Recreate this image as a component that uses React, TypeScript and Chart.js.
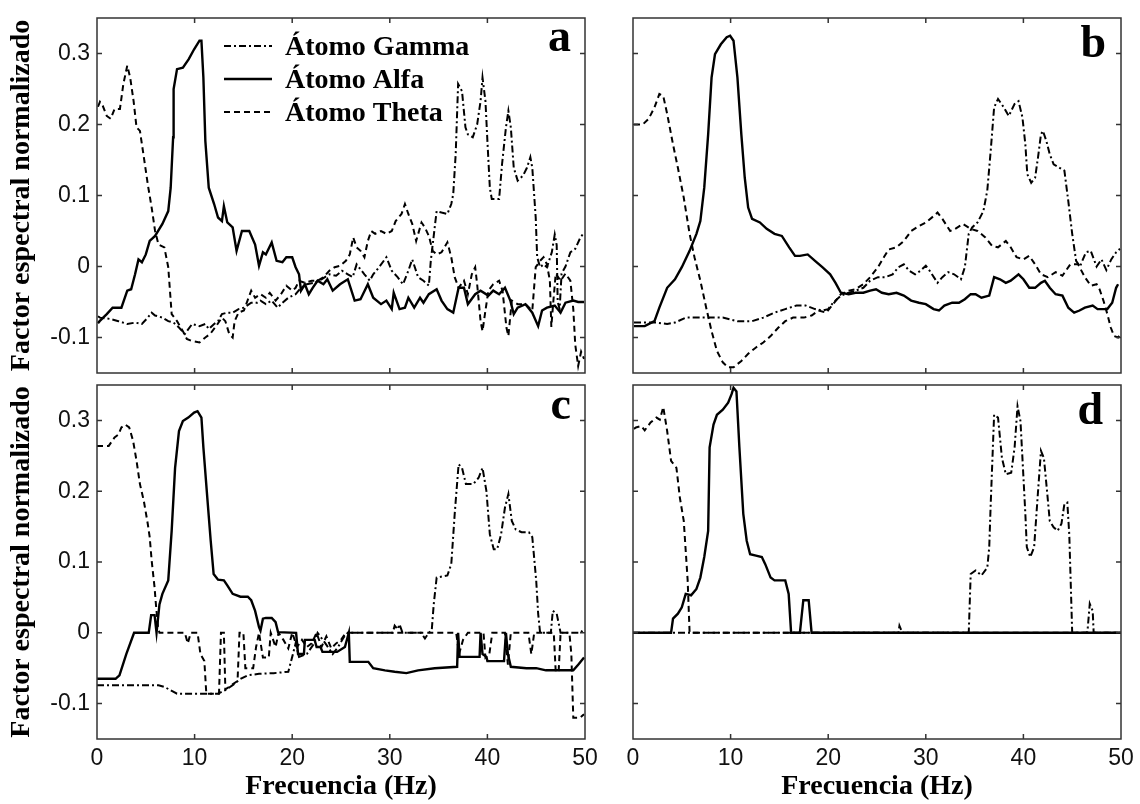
import React, { useEffect, useRef } from 'react';
import { Chart, registerables } from 'chart.js';

Chart.register(...registerables);

// ---------- data ----------
const freqTicks = [0, 10, 20, 30, 40, 50];
const freqTickLabels = ['0', '10', '20', '30', '40', '50'];
const factorTicks = [-0.1, 0, 0.1, 0.2, 0.3];
const factorTickLabels = ['-0.1', '0', '0.1', '0.2', '0.3'];
const seriesNames = ['Átomo Gamma', 'Átomo Alfa', 'Átomo Theta'];
const panelLetters = ['a', 'b', 'c', 'd'];
const xTitle = 'Frecuencia (Hz)';
const yTitle = 'Factor espectral normalizado';

type Pt = [number, number];

// panel a
const aGamma: Pt[] = [[0.1,-0.07],[0.3,-0.072],[1.4,-0.074],[2.2,-0.077],[3.1,-0.081],[3.9,-0.079],[4.6,-0.081],[5.2,-0.072],[5.6,-0.065],[5.95,-0.069],[6.7,-0.072],[7.3,-0.077],[7.85,-0.079],[8.4,-0.086],[9.0,-0.095],[9.75,-0.081],[10.5,-0.084],[11.1,-0.081],[11.45,-0.088],[12.0,-0.081],[12.4,-0.077],[12.8,-0.067],[13.35,-0.065],[13.9,-0.065],[14.5,-0.06],[15.05,-0.058],[15.8,-0.051],[16.4,-0.051],[16.75,-0.048],[17.3,-0.053],[17.9,-0.048],[18.5,-0.058],[19.0,-0.051],[19.6,-0.044],[20.35,-0.039],[20.9,-0.03],[21.5,-0.025],[22.25,-0.023],[23.0,-0.018],[23.8,-0.011],[24.5,-0.013],[25.1,-0.006],[25.7,-0.011],[26.2,-0.015],[26.6,0.003],[27.4,-0.011],[27.95,-0.02],[28.3,-0.011],[28.9,-0.001],[29.65,0.013],[30.2,-0.006],[30.8,-0.015],[31.35,-0.025],[31.9,-0.006],[32.3,0.01],[32.9,-0.015],[33.45,-0.02],[34.0,-0.027],[34.2,0.008],[34.6,0.055],[34.8,0.078],[35.3,0.076],[35.9,0.074],[36.3,0.088],[36.5,0.102],[36.75,0.158],[37.0,0.257],[37.4,0.247],[37.75,0.196],[38.0,0.186],[38.5,0.182],[38.95,0.2],[39.3,0.233],[39.5,0.266],[39.8,0.233],[40.0,0.177],[40.25,0.111],[40.45,0.095],[41.2,0.095],[41.5,0.144],[41.9,0.196],[42.15,0.219],[42.4,0.196],[42.7,0.139],[43.1,0.121],[43.65,0.128],[44.05,0.139],[44.4,0.154],[44.6,0.139],[44.95,0.069],[45.1,0.013],[45.4,-0.001],[45.75,0.003],[46.1,-0.001],[46.6,0.02],[46.9,0.045],[47.1,0.03],[47.2,-0.05],[47.4,-0.06],[47.6,-0.01],[48.0,0.0],[48.5,0.02],[49.0,0.025],[49.5,0.04],[49.9,0.048]];
const aAlfa: Pt[] = [[0.1,-0.08],[0.27,-0.077],[1.0,-0.067],[1.6,-0.058],[2.5,-0.058],[3.1,-0.034],[3.5,-0.032],[3.9,-0.011],[4.25,0.01],[4.6,0.006],[5.0,0.017],[5.4,0.036],[5.95,0.043],[6.7,0.06],[7.3,0.078],[7.55,0.111],[7.8,0.182],[7.85,0.25],[8.2,0.278],[8.8,0.28],[9.4,0.292],[9.95,0.306],[10.5,0.318],[10.7,0.318],[10.9,0.266],[11.1,0.177],[11.45,0.111],[12.0,0.088],[12.4,0.069],[12.8,0.064],[13.0,0.085],[13.35,0.062],[13.9,0.055],[14.3,0.022],[14.85,0.05],[15.6,0.05],[16.2,0.031],[16.6,0.001],[17.0,0.02],[17.3,0.017],[17.9,0.034],[18.4,0.008],[19.0,0.006],[19.4,0.013],[20.0,0.013],[20.35,-0.001],[20.7,-0.011],[20.9,-0.034],[21.3,-0.025],[21.7,-0.039],[22.1,-0.03],[22.6,-0.02],[23.2,-0.025],[23.6,-0.018],[24.15,-0.034],[24.9,-0.025],[25.7,-0.018],[26.4,-0.048],[27.0,-0.046],[27.75,-0.025],[28.3,-0.044],[29.1,-0.053],[29.65,-0.048],[30.2,-0.06],[30.4,-0.037],[31.0,-0.06],[31.55,-0.058],[31.9,-0.044],[32.5,-0.058],[33.1,-0.044],[33.45,-0.051],[34.0,-0.039],[34.8,-0.032],[35.3,-0.048],[35.9,-0.06],[36.5,-0.065],[37.05,-0.03],[37.6,-0.03],[38.0,-0.053],[38.75,-0.039],[39.3,-0.034],[40.1,-0.041],[40.6,-0.034],[41.2,-0.039],[41.8,-0.03],[42.35,-0.048],[42.7,-0.067],[43.1,-0.058],[43.9,-0.053],[44.6,-0.065],[45.2,-0.084],[45.6,-0.062],[46.1,-0.058],[46.9,-0.055],[47.5,-0.065],[48.0,-0.051],[48.8,-0.048],[49.3,-0.05],[49.9,-0.05]];
const aTheta: Pt[] = [[0.1,0.225],[0.3,0.232],[0.6,0.226],[1.0,0.212],[1.4,0.208],[1.8,0.222],[2.35,0.222],[2.7,0.257],[3.1,0.283],[3.4,0.266],[3.75,0.233],[4.05,0.196],[4.4,0.191],[4.8,0.154],[5.2,0.116],[5.6,0.083],[5.95,0.05],[6.3,0.031],[6.9,0.027],[7.3,-0.001],[7.65,-0.067],[8.2,-0.077],[8.8,-0.091],[9.2,-0.102],[9.75,-0.105],[10.5,-0.107],[11.1,-0.1],[11.6,-0.095],[12.2,-0.084],[12.8,-0.072],[13.15,-0.077],[13.55,-0.095],[13.9,-0.1],[14.1,-0.077],[14.5,-0.065],[15.05,-0.062],[15.8,-0.034],[16.2,-0.044],[16.75,-0.039],[17.3,-0.044],[17.7,-0.037],[18.3,-0.048],[18.85,-0.039],[19.4,-0.027],[20.0,-0.034],[20.35,-0.03],[20.7,-0.02],[21.3,-0.023],[22.0,-0.02],[22.6,-0.02],[23.2,-0.015],[23.8,-0.006],[24.35,-0.001],[24.9,0.001],[25.5,0.008],[25.9,0.017],[26.25,0.041],[26.6,0.027],[27.0,0.022],[27.4,0.013],[27.75,0.036],[28.1,0.05],[28.5,0.046],[29.1,0.05],[29.65,0.046],[30.2,0.05],[30.6,0.064],[31.2,0.074],[31.55,0.088],[31.9,0.074],[32.3,0.06],[32.7,0.036],[33.25,0.062],[33.6,0.055],[34.0,0.043],[34.4,0.022],[34.8,0.017],[35.3,0.02],[35.9,0.034],[36.3,0.013],[36.65,-0.015],[37.05,-0.03],[37.6,-0.02],[38.0,-0.039],[38.4,-0.011],[38.75,-0.001],[38.95,-0.025],[39.3,-0.077],[39.5,-0.091],[39.8,-0.062],[40.1,-0.034],[40.6,-0.025],[41.2,-0.02],[41.55,-0.034],[41.95,-0.086],[42.15,-0.098],[42.5,-0.048],[43.1,-0.053],[43.9,-0.053],[44.6,-0.062],[44.95,-0.001],[45.4,0.008],[45.75,0.013],[46.1,0.003],[46.4,-0.02],[46.55,-0.085],[46.75,-0.05],[47.0,-0.01],[47.5,-0.02],[48.0,-0.01],[48.5,-0.02],[48.8,-0.06],[49.0,-0.11],[49.3,-0.14],[49.6,-0.12],[49.9,-0.13]];

// panel b
const bGamma: Pt[] = [[0.1,-0.079],[1.2,-0.079],[2.4,-0.079],[3.5,-0.081],[4.3,-0.079],[5.4,-0.072],[6.5,-0.072],[7.7,-0.072],[9.2,-0.072],[10.7,-0.077],[12.2,-0.077],[13.35,-0.072],[14.5,-0.065],[15.6,-0.06],[16.75,-0.055],[17.7,-0.055],[18.65,-0.06],[19.4,-0.062],[20.0,-0.06],[20.5,-0.051],[21.3,-0.041],[22.1,-0.037],[22.8,-0.034],[23.6,-0.03],[24.3,-0.02],[25.1,-0.015],[25.85,-0.015],[26.6,-0.011],[27.2,-0.001],[27.75,0.003],[28.3,-0.006],[28.9,-0.011],[29.45,-0.006],[30.0,0.001],[30.4,-0.006],[31.2,-0.023],[31.7,-0.015],[32.3,-0.008],[32.9,-0.011],[33.6,-0.018],[34.0,-0.001],[34.4,0.046],[34.75,0.055],[35.3,0.062],[35.9,0.078],[36.3,0.107],[36.65,0.163],[37.0,0.224],[37.4,0.236],[38.0,0.224],[38.5,0.212],[39.1,0.229],[39.5,0.233],[39.9,0.21],[40.2,0.172],[40.4,0.13],[40.8,0.118],[41.2,0.125],[41.5,0.154],[41.8,0.186],[42.0,0.191],[42.35,0.177],[42.7,0.158],[43.1,0.144],[43.7,0.139],[44.2,0.135],[44.6,0.092],[45.0,0.046],[45.4,0.008],[45.8,0.0],[46.4,0.02],[46.9,0.022],[47.5,0.0],[48.0,0.01],[48.5,-0.005],[49.0,0.01],[49.5,0.02],[49.9,0.025]];
const bAlfa: Pt[] = [[0.1,-0.084],[1.2,-0.084],[2.2,-0.077],[2.7,-0.058],[3.5,-0.03],[4.3,-0.018],[5.0,-0.001],[5.8,0.022],[6.5,0.046],[6.9,0.064],[7.3,0.111],[7.7,0.186],[8.05,0.266],[8.4,0.299],[9.0,0.313],[9.6,0.323],[9.95,0.325],[10.3,0.318],[10.7,0.266],[11.1,0.186],[11.45,0.125],[11.8,0.083],[12.2,0.067],[13.0,0.062],[13.7,0.053],[14.5,0.046],[15.25,0.043],[16.0,0.027],[16.6,0.015],[17.1,0.015],[17.9,0.017],[18.65,0.008],[19.4,-0.001],[20.2,-0.011],[20.75,-0.023],[21.3,-0.037],[22.1,-0.039],[22.8,-0.037],[23.6,-0.037],[24.3,-0.034],[24.9,-0.032],[25.5,-0.037],[26.2,-0.039],[27.0,-0.037],[27.75,-0.041],[28.5,-0.048],[29.3,-0.051],[30.0,-0.053],[30.8,-0.06],[31.35,-0.062],[31.9,-0.055],[32.7,-0.051],[33.4,-0.051],[34.0,-0.046],[34.6,-0.039],[35.1,-0.039],[35.7,-0.044],[36.5,-0.041],[37.0,-0.015],[37.6,-0.018],[38.2,-0.023],[38.7,-0.02],[39.5,-0.011],[40.0,-0.018],[40.6,-0.03],[41.2,-0.03],[41.8,-0.023],[42.2,-0.02],[42.7,-0.03],[43.3,-0.039],[44.0,-0.041],[44.6,-0.058],[45.2,-0.065],[45.75,-0.062],[46.3,-0.058],[47.1,-0.055],[47.6,-0.06],[48.2,-0.06],[48.6,-0.06],[49.1,-0.051],[49.5,-0.03],[49.7,-0.025]];
const bTheta: Pt[] = [[0.1,0.2],[1.0,0.2],[1.6,0.208],[2.2,0.224],[2.7,0.243],[3.1,0.24],[3.5,0.215],[4.1,0.172],[4.6,0.139],[5.2,0.097],[5.8,0.046],[6.3,0.013],[6.9,-0.02],[7.5,-0.058],[8.05,-0.091],[8.6,-0.119],[9.2,-0.135],[9.75,-0.142],[10.3,-0.142],[11.1,-0.133],[11.8,-0.123],[12.6,-0.114],[13.35,-0.107],[14.1,-0.098],[14.9,-0.086],[15.6,-0.077],[16.4,-0.072],[17.5,-0.072],[18.3,-0.069],[19.0,-0.062],[19.8,-0.065],[20.5,-0.053],[21.3,-0.039],[22.1,-0.034],[22.8,-0.032],[23.6,-0.025],[24.3,-0.015],[25.1,-0.001],[25.7,0.013],[26.2,0.024],[27.0,0.027],[27.75,0.036],[28.5,0.05],[29.3,0.057],[30.0,0.062],[30.8,0.071],[31.2,0.076],[31.7,0.067],[32.5,0.05],[33.0,0.053],[33.8,0.06],[34.6,0.053],[35.3,0.05],[36.1,0.041],[36.8,0.029],[37.4,0.027],[38.2,0.036],[38.7,0.027],[39.3,0.013],[40.0,0.01],[40.6,0.015],[41.2,0.003],[41.8,-0.011],[42.5,-0.015],[43.3,-0.008],[44.0,-0.013],[44.8,0.003],[45.6,0.003],[46.3,-0.015],[46.9,-0.027],[47.5,-0.025],[47.8,-0.032],[48.2,-0.048],[48.6,-0.067],[48.95,-0.086],[49.3,-0.098],[49.7,-0.1],[49.9,-0.096]];

// panel c
const cGamma: Pt[] = [[0,-0.074],[4.0,-0.074],[6.3,-0.074],[7.0,-0.077],[7.5,-0.081],[8.2,-0.086],[11.0,-0.086],[12.4,-0.086],[13.15,-0.081],[13.9,-0.074],[14.7,-0.065],[15.45,-0.06],[16.6,-0.058],[18.1,-0.057],[19.6,-0.055],[20.0,-0.034],[20.35,-0.015],[20.7,-0.034],[21.5,-0.03],[22.25,-0.015],[22.6,0],[23.4,-0.015],[24.15,-0.03],[24.7,-0.02],[25.3,-0.006],[25.7,0],[30.3,0],[30.5,0.01],[30.8,0.005],[31.0,0.012],[31.3,0],[33.2,0],[33.6,-0.008],[34.0,0],[34.3,0.004],[34.5,0.04],[34.8,0.078],[35.9,0.081],[36.3,0.097],[36.65,0.168],[37.05,0.238],[37.4,0.233],[37.8,0.21],[38.55,0.21],[39.1,0.219],[39.5,0.233],[39.9,0.2],[40.25,0.139],[40.65,0.118],[41.0,0.118],[41.4,0.139],[41.8,0.177],[42.15,0.196],[42.5,0.158],[42.9,0.146],[43.5,0.142],[44.25,0.142],[44.6,0.135],[45.0,0.074],[45.2,0.027],[45.4,0],[46.5,0],[46.7,0.031],[47.1,0.027],[47.5,0],[49.5,0],[49.9,0.005]];
const cAlfa: Pt[] = [[0,-0.065],[1.9,-0.065],[2.3,-0.06],[3.0,-0.03],[3.8,0],[5.3,0],[5.55,0.025],[5.9,0.025],[6.1,0],[6.4,0.04],[6.7,0.055],[7.3,0.074],[7.65,0.144],[8.0,0.233],[8.4,0.285],[8.8,0.299],[9.35,0.304],[9.95,0.311],[10.3,0.313],[10.7,0.304],[10.9,0.262],[11.3,0.191],[11.65,0.13],[11.95,0.083],[12.4,0.075],[13.0,0.074],[13.35,0.067],[13.9,0.055],[14.7,0.051],[15.45,0.051],[15.8,0.046],[16.2,0.031],[16.6,0.008],[16.75,0.003],[17.0,0.02],[17.3,0.021],[17.9,0.021],[18.3,0.015],[18.55,0.001],[20.4,0],[20.6,-0.03],[21.2,-0.03],[21.3,-0.01],[22.3,-0.01],[22.5,-0.02],[22.9,-0.02],[23.1,-0.027],[24.6,-0.027],[25.4,-0.02],[25.8,0],[25.9,-0.041],[27.8,-0.041],[28.3,-0.05],[29.5,-0.053],[30.5,-0.055],[31.7,-0.057],[32.9,-0.053],[34.6,-0.05],[36.9,-0.048],[37.0,0],[37.15,-0.034],[39.2,-0.034],[39.3,0],[39.5,-0.03],[39.9,-0.034],[40.0,-0.04],[41.7,-0.04],[41.9,0],[42.1,-0.03],[42.4,-0.048],[44.0,-0.05],[45.0,-0.05],[46.0,-0.053],[48.8,-0.053],[49.3,-0.045],[49.9,-0.035]];
const cTheta: Pt[] = [[0,0.264],[1.2,0.264],[1.8,0.276],[2.2,0.28],[2.5,0.29],[2.9,0.294],[3.3,0.29],[3.7,0.271],[4.05,0.243],[4.4,0.21],[4.8,0.186],[5.2,0.154],[5.4,0.135],[5.6,0.102],[5.9,0.064],[6.0,0.046],[6.25,0.008],[6.4,0],[9.0,0],[9.3,-0.015],[9.6,0],[10.3,0],[10.6,-0.03],[11.0,-0.04],[11.2,-0.086],[12.5,-0.086],[12.7,0],[13.0,0],[13.15,-0.08],[14.4,-0.068],[14.6,0],[15.0,0],[15.2,-0.05],[16.0,-0.05],[16.3,-0.02],[16.6,0],[17.0,-0.035],[17.6,-0.035],[17.8,0],[18.3,-0.02],[18.6,0],[19.1,-0.01],[19.6,-0.022],[20.0,0],[20.5,-0.02],[21.0,-0.01],[21.5,-0.02],[22.0,-0.015],[22.5,0],[23.0,-0.02],[23.5,-0.005],[24.0,-0.022],[24.5,-0.015],[25.0,-0.01],[25.5,0],[36.8,0],[37.1,-0.03],[37.5,-0.01],[38.0,0],[39.6,0],[39.8,-0.035],[40.2,-0.03],[40.5,0],[41.8,0],[42.1,-0.045],[42.4,0],[44.2,0],[44.5,-0.03],[44.8,0],[46.8,0],[47.0,-0.055],[47.3,-0.055],[47.5,0],[48.4,0],[48.6,-0.03],[48.8,-0.12],[49.5,-0.12],[49.9,-0.115]];

// panel d
const dGamma: Pt[] = [[0,0],[27.2,0],[27.3,0.01],[27.6,0],[34.4,0],[34.6,0.083],[35.1,0.088],[35.7,0.081],[36.3,0.092],[36.5,0.121],[36.65,0.182],[37.0,0.308],[37.4,0.304],[37.8,0.247],[38.2,0.224],[38.75,0.226],[39.1,0.262],[39.4,0.32],[39.7,0.299],[39.9,0.247],[40.2,0.168],[40.35,0.121],[40.7,0.107],[41.1,0.121],[41.5,0.2],[41.8,0.257],[42.1,0.247],[42.45,0.196],[42.7,0.158],[43.1,0.149],[43.5,0.144],[43.9,0.154],[44.2,0.182],[44.5,0.184],[44.7,0.139],[45.0,0],[46.5,0],[46.6,0.008],[46.8,0.041],[47.1,0.031],[47.2,0],[50,0]];
const dAlfa: Pt[] = [[0,0],[3.9,0],[4.1,0.02],[4.6,0.027],[5.0,0.036],[5.4,0.055],[5.95,0.053],[6.5,0.062],[6.9,0.078],[7.3,0.107],[7.7,0.144],[7.85,0.262],[8.25,0.294],[8.6,0.308],[9.2,0.315],[9.75,0.325],[10.1,0.337],[10.3,0.346],[10.6,0.341],[10.9,0.262],[11.3,0.168],[11.65,0.13],[12.0,0.111],[12.6,0.109],[13.2,0.107],[13.55,0.097],[14.1,0.078],[14.5,0.074],[15.25,0.074],[15.6,0.074],[15.95,0.055],[16.2,0],[17.1,0],[17.45,0.046],[18.0,0.046],[18.3,0],[50,0]];
const dTheta: Pt[] = [[0.1,0.288],[0.3,0.29],[0.85,0.292],[1.2,0.286],[1.8,0.297],[2.4,0.304],[2.75,0.301],[3.1,0.319],[3.5,0.285],[3.9,0.243],[4.45,0.233],[4.8,0.191],[5.2,0.158],[5.6,0.074],[5.8,0],[50,0]];

// ---------- styling ----------
const SERIF = '"Liberation Serif", "Times New Roman", serif';
const SANS = '"Liberation Sans", Arial, sans-serif';
const DASH_GAMMA = [7, 3, 2, 3];
const DASH_THETA = [6, 4];
const INK = '#000';

type Panel = {
  letter: string;
  gamma: Pt[];
  alfa: Pt[];
  theta: Pt[];
  left: number;
  top: number;
  width: number;
  height: number;
  pad: { left: number; right: number; top: number; bottom: number };
  showY: boolean;
  showX: boolean;
  legend: boolean;
  letterDx: number;
  letterDy: number;
};

const panels: Panel[] = [
  { letter: panelLetters[0], gamma: aGamma, alfa: aAlfa, theta: aTheta, left: 0, top: 0, width: 600, height: 380,
    pad: { left: 0, right: 15, top: 18, bottom: 7 }, showY: true, showX: false, legend: true, letterDx: 14, letterDy: 33 },
  { letter: panelLetters[1], gamma: bGamma, alfa: bAlfa, theta: bTheta, left: 600, top: 0, width: 540, height: 380,
    pad: { left: 33, right: 19, top: 18, bottom: 7 }, showY: false, showX: false, legend: false, letterDx: 15, letterDy: 39 },
  { letter: panelLetters[2], gamma: cGamma, alfa: cAlfa, theta: cTheta, left: 0, top: 380, width: 600, height: 424,
    pad: { left: 0, right: 15, top: 5, bottom: 0 }, showY: true, showX: true, legend: false, letterDx: 14, letterDy: 34 },
  { letter: panelLetters[3], gamma: dGamma, alfa: dAlfa, theta: dTheta, left: 600, top: 380, width: 540, height: 424,
    pad: { left: 33, right: 19, top: 5, bottom: 0 }, showY: false, showX: true, legend: false, letterDx: 18, letterDy: 39 },
];

const framePlugin = {
  id: 'frameTicks',
  afterDraw(chart: any, _args: any, opts: any) {
    const { ctx, chartArea: a, scales } = chart;
    ctx.save();
    ctx.setLineDash([]);
    ctx.strokeStyle = '#333';
    ctx.lineWidth = 1.5;
    ctx.strokeRect(a.left, a.top, a.right - a.left, a.bottom - a.top);
    const L = 5;
    ctx.beginPath();
    for (const v of freqTicks) {
      const x = scales.x.getPixelForValue(v);
      if (x <= a.left + 1 || x >= a.right - 1) continue;
      ctx.moveTo(x, a.bottom); ctx.lineTo(x, a.bottom - L);
      ctx.moveTo(x, a.top); ctx.lineTo(x, a.top + L);
    }
    for (const v of factorTicks) {
      const y = scales.y.getPixelForValue(v);
      ctx.moveTo(a.left, y); ctx.lineTo(a.left + L, y);
      ctx.moveTo(a.right, y); ctx.lineTo(a.right - L, y);
    }
    ctx.stroke();

    ctx.fillStyle = INK;
    ctx.font = `bold 46px ${SERIF}`;
    ctx.textAlign = 'right';
    ctx.textBaseline = 'alphabetic';
    ctx.fillText(opts.letter, a.right - opts.letterDx, a.top + opts.letterDy);

    if (opts.legend) {
      const rows = [
        { name: seriesNames[0], dash: DASH_GAMMA, w: 2 },
        { name: seriesNames[1], dash: [] as number[], w: 2.4 },
        { name: seriesNames[2], dash: DASH_THETA, w: 2 },
      ];
      const rowY = [28, 61, 94];
      ctx.font = `bold 28px ${SERIF}`;
      ctx.textAlign = 'left';
      ctx.textBaseline = 'middle';
      rows.forEach((r, i) => {
        const y = a.top + rowY[i];
        ctx.beginPath();
        ctx.setLineDash(r.dash);
        ctx.lineWidth = r.w;
        ctx.strokeStyle = INK;
        ctx.moveTo(a.left + 127, y);
        ctx.lineTo(a.left + 175, y);
        ctx.stroke();
        ctx.setLineDash([]);
        ctx.fillText(r.name, a.left + 188, y + 2);
      });
    }
    ctx.restore();
  },
};

const toXY = (pts: Pt[]) => pts.map(([x, y]) => ({ x, y }));

function PanelChart({ p }: { p: Panel }) {
  const ref = useRef<HTMLCanvasElement | null>(null);
  useEffect(() => {
    if (!ref.current) return;
    const chart = new Chart(ref.current, {
      type: 'line',
      data: {
        datasets: [
          { label: seriesNames[1], data: toXY(p.alfa), borderColor: INK, borderWidth: 2.4, pointRadius: 0, tension: 0, fill: false },
          { label: seriesNames[0], data: toXY(p.gamma), borderColor: INK, borderWidth: 2, borderDash: DASH_GAMMA, pointRadius: 0, tension: 0, fill: false },
          { label: seriesNames[2], data: toXY(p.theta), borderColor: INK, borderWidth: 2, borderDash: DASH_THETA, pointRadius: 0, tension: 0, fill: false },
        ],
      },
      options: {
        responsive: false,
        animation: false,
        devicePixelRatio: 1,
        layout: { padding: p.pad },
        plugins: {
          legend: { display: false },
          tooltip: { enabled: false },
          frameTicks: { letter: p.letter, legend: p.legend, letterDx: p.letterDx, letterDy: p.letterDy },
        } as any,
        scales: {
          x: {
            type: 'linear',
            min: 0,
            max: 50,
            display: p.showX,
            grid: { display: false, drawTicks: false },
            border: { display: false },
            afterBuildTicks: (s: any) => { s.ticks = freqTicks.map((v) => ({ value: v })); },
            afterFit: (s: any) => {
              s.paddingLeft = 0; s.paddingRight = 0;
              s.height = p.showX ? 65 : 0;
            },
            ticks: {
              padding: 6,
              color: '#111',
              font: { family: SANS, size: 23 },
              maxRotation: 0,
              autoSkip: false,
              callback: (v: any) => freqTickLabels[freqTicks.indexOf(Number(v))] ?? '',
            },
            title: {
              display: true,
              text: xTitle,
              color: INK,
              font: { family: SERIF, size: 28, weight: 'bold' },
              padding: { top: 0, bottom: 0 },
            },
          },
          y: {
            type: 'linear',
            min: -0.15,
            max: 0.35,
            display: p.showY,
            grid: { display: false, drawTicks: false },
            border: { display: false },
            afterBuildTicks: (s: any) => { s.ticks = factorTicks.map((v) => ({ value: v })); },
            afterFit: (s: any) => {
              s.paddingTop = 0; s.paddingBottom = 0;
              s.width = p.showY ? 97 : 0;
            },
            ticks: {
              padding: 7,
              color: '#111',
              font: { family: SANS, size: 23 },
              autoSkip: false,
              callback: (v: any) => {
                const i = factorTicks.findIndex((t) => Math.abs(t - Number(v)) < 1e-9);
                return i >= 0 ? factorTickLabels[i] : '';
              },
            },
            title: {
              display: true,
              text: yTitle,
              color: INK,
              font: { family: SERIF, size: 28, weight: 'bold', lineHeight: 1.2 },
              padding: { top: 5, bottom: 0 },
            },
          },
        },
      } as any,
      plugins: [framePlugin as any],
    });
    return () => chart.destroy();
  }, [p]);
  return (
    <canvas
      ref={ref}
      width={p.width}
      height={p.height}
      style={{ position: 'absolute', left: p.left, top: p.top, width: p.width, height: p.height }}
    />
  );
}

export default function App() {
  return (
    <div style={{ position: 'absolute', left: 0, top: 0, width: 1140, height: 804, background: '#fff' }}>
      {panels.map((p) => (
        <PanelChart key={p.letter} p={p} />
      ))}
    </div>
  );
}
